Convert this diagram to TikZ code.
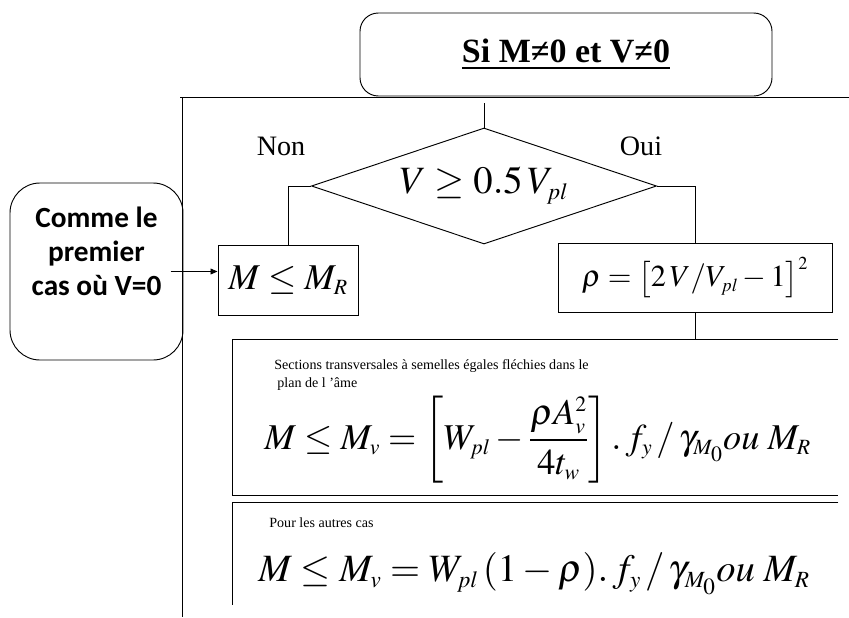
\documentclass[tikz,border=0pt]{standalone}
\usepackage{amsmath}
\usepackage{mathptmx}
\usepackage[no-math]{fontspec}
\setmainfont{Liberation Serif}
\newfontfamily\calib{Carlito}
\usetikzlibrary{shapes.geometric,arrows.meta}
\newcommand\indice[1]{_{\scriptscriptstyle #1}}

\tikzset{
	boite/.style={draw,thick,minimum width=#1,inner sep=0pt},
	petit/.style={font=\fontsize{12}{13}\selectfont,anchor=base west},
	grand/.style={anchor=west,inner sep=0pt}
}

\begin{document}
\begin{tikzpicture}[x=0.03cm,y=-0.03cm,line width=0.8pt]
	\useasboundingbox (0,0) rectangle (849,617);
	\node[boite=12.36cm,minimum height=2.49cm,rounded corners=0.55cm,font=\bfseries\fontsize{29}{32}\selectfont] (titre) at (566,54.5) {\underline{Si M≠0 et V≠0}};
	\draw (180,97) -- (849,97);
	\draw (182,97) -- (182,617);
	\coordinate (depart) at (484,103);
	\node[draw,thick,diamond,shape aspect=3,minimum width=10.35cm,minimum height=3.48cm,inner sep=0pt,font=\fontsize{33}{36}\selectfont] (cond) at (484,186) {$V \geq 0.5\,V\indice{pl}$};
	\draw (depart) -- (cond.north);
	\node[font=\fontsize{24}{26}\selectfont] (non) at (281,146) {Non};
	\node[font=\fontsize{24}{26}\selectfont] (oui) at (641,146) {Oui};
	\node[boite=4.2cm,minimum height=2.1cm,font=\fontsize{31}{34}\selectfont] (mr) at (288,280) {$M \leq M\indice{R}$};
	\node[boite=8.22cm,minimum height=2.07cm,font=\fontsize{26}{30}\selectfont] (rho) at (695,277.5) {$\rho = \bigl[2\,V/V\indice{pl} - 1\bigr]^{\scriptscriptstyle 2}$};
	\draw (cond.west) -| (mr.north);
	\draw (cond.east) -| (rho.north);
	\node[minimum width=18.15cm,minimum height=4.65cm,inner sep=0pt] (sec1) at (535.5,417.5) {};
	\draw[thick] (sec1.north east) -- (sec1.north west) -- (sec1.south west) -- (sec1.south east);
	\draw (rho.south) -- (rho.south |- sec1.north);
	\node[petit] (txt1) at (270,369) {Sections transversales à semelles égales fléchies dans le};
	\node[petit] (txt2) at (273,387) {plan de l 'âme};
	\node[grand,font=\fontsize{31}{34}\selectfont] (form1) at (264,440) {$M \leq M\indice{v} = \left[W\indice{pl} - \dfrac{\rho A\indice{v}^{\scriptscriptstyle 2}}{4t\indice{w}}\right].\,f\indice{y}\,/\,\gamma\indice{M_0} ou\; M\indice{R}$};
	\node[minimum width=18.15cm,minimum height=3.06cm,inner sep=0pt] (sec2) at (535.5,554) {};
	\draw[thick] (sec2.north east) -- (sec2.north west) -- (sec2.south west);
	\node[petit] (txt3) at (265,527) {Pour les autres cas};
	\node[grand,font=\fontsize{33}{36}\selectfont] (form2) at (258,574) {$M \leq M\indice{v} = W\indice{pl}\,(1-\rho).\,f\indice{y}\,/\,\gamma\indice{M_0} ou\; M\indice{R}$};
	\node[boite=5.19cm,minimum height=5.31cm,rounded corners=0.9cm] (cas0) at (96.5,271.5) {};
	\node[align=center,font=\calib\bfseries\fontsize{25}{29}\selectfont] (cas0txt) at ([yshift=17pt]cas0.center) {Comme le\\premier\\cas où V=0};
	\draw[-{Triangle[length=6pt,width=5pt]}] ([xshift=-11pt]cas0.east) -- (mr.west |- cas0.east);
\end{tikzpicture}
\end{document}
